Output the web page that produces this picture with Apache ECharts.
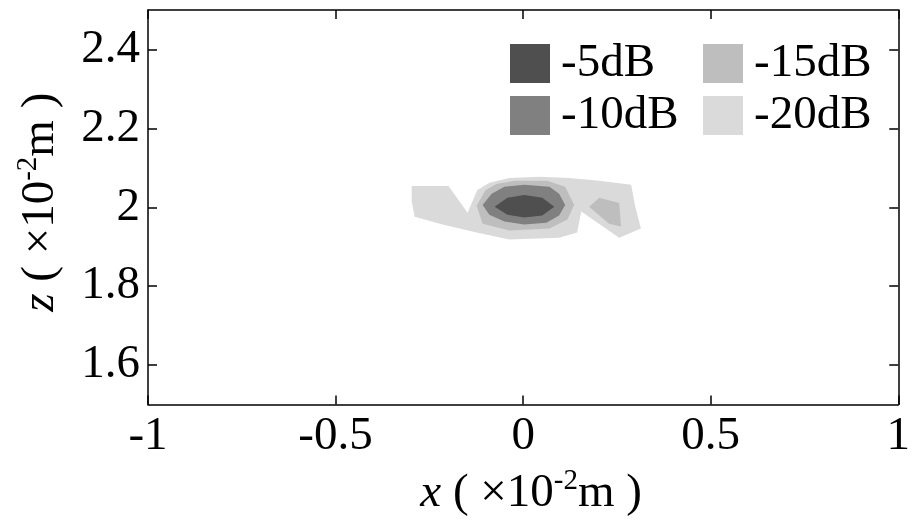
<!DOCTYPE html>
<html>
<head>
<meta charset="utf-8">
<script src="https://cdn.jsdelivr.net/npm/echarts@6/dist/echarts.min.js"></script>
<style>html,body{margin:0;padding:0;background:#fff;}#c{width:913px;height:522px;}</style>
</head>
<body>
<div id="c"></div>
<script>
// Tick values / labels
const xTicks = [-1, -0.5, 0, 0.5, 1];
const zTicks = [1.6, 1.8, 2, 2.2, 2.4];
const levelNames = ['-5dB', '-10dB', '-15dB', '-20dB'];
const levelColors = ['#4f4f4f', '#808080', '#bebebe', '#dadada'];

// Contour polygons [x, z] (×10^-2 m)
const contour20 = [[
  [-0.297, 2.054], [-0.199, 2.054], [-0.148, 1.986], [-0.122, 2.044], [-0.090, 2.062],
  [-0.037, 2.074], [0.043, 2.077], [0.123, 2.074], [0.203, 2.067], [0.288, 2.057],
  [0.298, 2.006], [0.314, 1.946], [0.256, 1.923], [0.155, 1.989], [0.144, 1.936],
  [0.096, 1.923], [-0.037, 1.918], [-0.124, 1.936], [-0.215, 1.956], [-0.289, 1.976],
  [-0.297, 2.014]
]];
const contour15 = [[
  [-0.124, 2.004], [-0.100, 2.044], [-0.071, 2.059], [-0.023, 2.067], [0.064, 2.067],
  [0.112, 2.052], [0.136, 2.006], [0.118, 1.969], [0.070, 1.946], [-0.037, 1.941],
  [-0.108, 1.958]
], [
  [0.176, 2.001], [0.203, 2.024], [0.256, 2.011], [0.261, 1.951], [0.229, 1.958]
]];
const contour10 = [[
  [-0.108, 2.006], [-0.084, 2.034], [-0.050, 2.052], [0.003, 2.057], [0.070, 2.052],
  [0.096, 2.034], [0.112, 2.006], [0.096, 1.979], [0.062, 1.961], [0.003, 1.956],
  [-0.050, 1.964], [-0.090, 1.981]
]];
const contour5 = [[
  [-0.076, 2.001], [-0.042, 2.024], [0.003, 2.031], [0.051, 2.024], [0.083, 2.001],
  [0.051, 1.979], [0.003, 1.974], [-0.042, 1.981]
]];

const FONT = 'Liberation Serif';
const FS = 47;

function polySeries(name, color, polys, z) {
  return {
    type: 'custom',
    name: name,
    z: z,
    itemStyle: { color: color },
    data: polys.map((p, i) => [p[0][0], p[0][1], i]),
    encode: { x: 0, y: 1 },
    renderItem: function (params, api) {
      const poly = polys[api.value(2)];
      return {
        type: 'polygon',
        shape: { points: poly.map(pt => api.coord(pt)) },
        style: { fill: color, stroke: null }
      };
    }
  };
}

const chart = echarts.init(document.getElementById('c'), null, { renderer: 'canvas' });

const axisLineStyle = { show: true, onZero: false, lineStyle: { color: '#000', width: 1.5 } };
const tickStyle = { show: true, inside: true, length: 9, lineStyle: { color: '#000', width: 1.5 } };

const rich = {
  i: { fontFamily: FONT, fontSize: FS, fontStyle: 'italic', color: '#000', lineHeight: 54 },
  n: { fontFamily: FONT, fontSize: FS, color: '#000', lineHeight: 54 },
  s: { fontFamily: FONT, fontSize: 29, color: '#000', verticalAlign: 'top', lineHeight: 54, padding: [0, 0, 16, 0] }
};

const legendCommon = {
  orient: 'vertical', top: 35,
  itemWidth: 40, itemHeight: 39, itemGap: 5,
  icon: 'rect',
  textStyle: { fontFamily: FONT, fontSize: FS, lineHeight: 44, color: '#000', padding: [0, 0, 0, 6] }
};

chart.setOption({
  animation: false,
  backgroundColor: '#fff',
  grid: { left: 148, top: 10, width: 752, height: 396, containLabel: false },
  legend: [
    Object.assign({ left: 505, data: [levelNames[0], levelNames[1]] }, legendCommon),
    Object.assign({ left: 698, data: [levelNames[2], levelNames[3]] }, legendCommon)
  ],
  xAxis: [{
    type: 'value', min: -1, max: 1, position: 'bottom',
    axisLine: axisLineStyle,
    axisTick: Object.assign({ customValues: xTicks }, tickStyle),
    axisLabel: { customValues: xTicks, fontFamily: FONT, fontSize: FS, color: '#000', margin: 9 },
    splitLine: { show: false },
    name: '{i|x}{n| ( ×10}{s|-2}{n|m )}',
    nameLocation: 'middle', nameGap: 62,
    nameTextStyle: { rich: rich, padding: [0, 0, 0, 16] }
  }, {
    type: 'value', min: -1, max: 1, position: 'top',
    axisLine: axisLineStyle,
    axisTick: Object.assign({ customValues: xTicks }, tickStyle),
    axisLabel: { show: false },
    splitLine: { show: false }
  }],
  yAxis: [{
    type: 'value', min: 1.5, max: 2.5, position: 'left',
    axisLine: axisLineStyle,
    axisTick: Object.assign({ customValues: zTicks }, tickStyle),
    axisLabel: { customValues: zTicks, fontFamily: FONT, fontSize: FS, color: '#000', margin: 8 },
    splitLine: { show: false },
    name: '{i|z}{n| ( ×10}{s|-2}{n|m )}',
    nameLocation: 'middle', nameGap: 80, nameRotate: 90,
    nameTextStyle: { rich: rich, padding: [0, 0, 0, 10] }
  }, {
    type: 'value', min: 1.5, max: 2.5, position: 'right',
    axisLine: axisLineStyle,
    axisTick: Object.assign({ customValues: zTicks }, tickStyle),
    axisLabel: { show: false },
    splitLine: { show: false }
  }],
  series: [
    polySeries(levelNames[3], levelColors[3], contour20, 1),
    polySeries(levelNames[2], levelColors[2], contour15, 2),
    polySeries(levelNames[1], levelColors[1], contour10, 3),
    polySeries(levelNames[0], levelColors[0], contour5, 4)
  ]
});
</script>
</body>
</html>
